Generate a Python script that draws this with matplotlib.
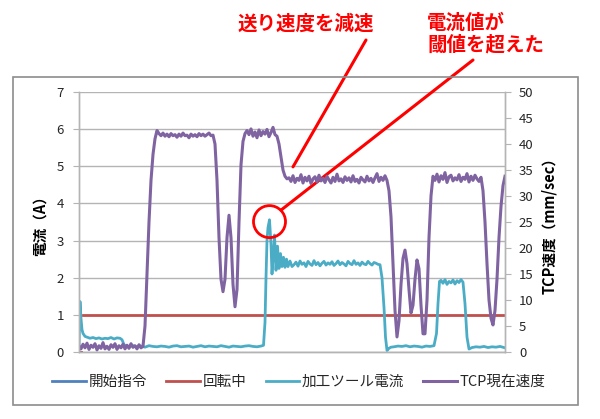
import numpy as np
import matplotlib
matplotlib.use('Agg')
import matplotlib.pyplot as plt
from matplotlib.patches import Rectangle, Ellipse

plt.rcParams['font.family'] = ['Noto Sans CJK JP', 'DejaVu Sans']

# 時間軸は目盛りなし (サンプル番号, 0..426)
t_end = 426

# 開始指令 (A) - ほぼ見えない
cmd_t = [0, 2]
cmd_v = [0, 0]

# 回転中 (A) - 0 の短い線のあと 1 に
rot_t = [0, 2.5, 2.5, 3.7, t_end]
rot_v = [0, 0, np.nan, 1, 1]

# 加工ツール電流 (A)
cur_t = np.concatenate([
    [0, 1, 2, 3, 4, 6],
    np.arange(8, 42, 3),
    [43, 45, 47],
    np.arange(50, 185, 4),
    [184.5, 186, 187, 188, 189, 190.5, 192, 193, 194.5, 195.5, 197, 198.5,
     200, 201.5, 203, 204.5, 206, 207.5, 209, 211, 213],
    np.arange(215, 301, 2),
    [301, 303, 305, 306.5, 308, 310, 312],
    np.arange(315, 357, 4),
    [357.5, 359, 360.5],
    np.arange(362, 385, 2),
    [386, 388, 390],
    np.arange(393, 427, 4),
])
cur_v = np.concatenate([
    [0.05, 1.36, 0.9, 0.6, 0.5, 0.42],
    [0.40, 0.37, 0.39, 0.36, 0.38, 0.35, 0.37, 0.36, 0.39, 0.35, 0.38, 0.37],
    [0.33, 0.2, 0.16],
    [0.15, 0.17, 0.14, 0.16, 0.13, 0.17, 0.15, 0.14, 0.16, 0.15, 0.13, 0.16,
     0.17, 0.14, 0.15, 0.16, 0.13, 0.15, 0.17, 0.14, 0.16, 0.15, 0.14, 0.17,
     0.15, 0.13, 0.16, 0.15, 0.14, 0.16, 0.17, 0.15, 0.14, 0.16],
    [0.18, 0.8, 2.0, 3.0, 3.35, 3.56, 2.9, 2.1, 2.7, 3.15, 2.2, 2.85,
     2.25, 2.65, 2.3, 2.55, 2.28, 2.5, 2.3, 2.45, 2.3],
    [2.35, 2.42, 2.31, 2.45, 2.36, 2.40, 2.30, 2.44, 2.37, 2.33, 2.46, 2.35,
     2.41, 2.32, 2.39, 2.44, 2.34, 2.40, 2.36, 2.43, 2.33, 2.38, 2.45, 2.35,
     2.41, 2.37, 2.32, 2.44, 2.38, 2.35, 2.46, 2.36, 2.40, 2.33, 2.42, 2.37,
     2.35, 2.44, 2.38, 2.34, 2.41, 2.39, 2.36],
    [2.35, 2.0, 1.2, 0.4, 0.04, 0.1, 0.13],
    [0.14, 0.16, 0.15, 0.17, 0.14, 0.16, 0.15, 0.13, 0.16, 0.15, 0.17],
    [0.5, 1.3, 1.9],
    [1.93, 1.85, 1.95, 1.82, 1.90, 1.86, 1.94, 1.83, 1.92, 1.87, 1.95, 1.88],
    [1.3, 0.4, 0.08],
    [0.12, 0.14, 0.13, 0.15, 0.12, 0.14, 0.13, 0.15, 0.12],
])

# TCP現在速度 (mm/sec) - 右軸
spd_t = np.concatenate([
    np.arange(0, 65, 2),
    [66, 68, 70, 72, 74, 76],
    np.arange(78, 135, 2),
    np.arange(136, 167, 2),
    np.arange(168, 197, 2),
    [198, 200, 202, 204, 206, 208],
    np.arange(210, 307, 2),
    np.arange(308, 353, 2),
    np.arange(354, 403, 2),
    np.arange(404, 427, 2),
])
spd_v = np.concatenate([
    [1.2, 0.6, 1.5, 0.8, 1.7, 0.5, 1.3, 0.9, 1.6, 0.4, 1.2, 0.7, 1.8, 0.6,
     1.1, 0.5, 1.4, 0.9, 1.6, 0.5, 1.2, 0.8, 1.5, 0.6, 1.3, 0.7, 1.6, 0.9,
     1.2, 0.6, 1.4, 0.8, 1.1],
    [5, 15, 25, 33, 38, 41],
    [42.6, 42.0, 41.6, 42.1, 41.5, 41.9, 41.4, 42.0, 41.6, 41.8, 41.3, 41.9,
     41.5, 42.1, 41.6, 41.7, 41.2, 41.9, 41.5, 41.8, 41.4, 42.0, 41.6, 41.9,
     41.5, 41.8, 42.1, 41.6, 41.7],
    [40, 33, 22, 14, 11.6, 14, 22, 26.3, 22, 13, 8.7, 12, 25, 36, 40.5, 42],
    [42.6, 41.8, 42.9, 41.5, 42.3, 41.2, 42.7, 41.6, 42.4, 41.9, 42.8, 41.4,
     42.2, 43.2, 41.8],
    [41.5, 40, 37.5, 35, 33.8, 33.3],
    [33.5, 32.8, 33.9, 32.6, 33.4, 33.0, 34.1, 32.5, 33.6, 32.9, 33.8, 32.4,
     33.3, 33.7, 32.7, 34.0, 32.9, 33.4, 32.6, 33.8, 33.1, 32.5, 33.6, 32.8,
     34.2, 32.9, 33.3, 32.6, 33.7, 33.0, 33.5, 32.7, 33.9, 32.8, 33.2, 32.5,
     33.6, 33.1, 32.7, 33.8, 32.9, 33.4, 32.6, 33.5, 34.3, 32.8, 33.6, 33.0,
     33.9],
    [33, 31, 26, 17, 8, 2.9, 6, 13, 18, 19.6, 17, 12, 7.5, 9, 14, 17.7, 16,
     9, 3.5, 3.5, 10, 22, 30],
    [33.8, 33.0, 34.2, 32.7, 33.9, 33.2, 34.5, 32.6, 33.7, 34.0, 32.9, 33.5,
     33.1, 34.1, 32.8, 33.6, 33.2, 34.3, 32.7, 33.8, 33.0, 34.0, 33.3, 32.8,
     33.6],
    [31, 25, 17, 10, 6.5, 5.2, 8, 14, 22, 28, 32, 33.8],
])

left_ticks = np.arange(0, 8, 1)
right_ticks = np.arange(0, 55, 5)

c_cmd = '#4F81BD'
c_rot = '#C0504D'
c_cur = '#4BACC6'
c_spd = '#8064A2'
grid_c = '#b4b4b4'
txt_c = '#262626'

fig = plt.figure(figsize=(6, 4.19), dpi=100)
fig.patches.append(Rectangle((13 / 600, 1 - 405 / 419), 565 / 600, 328 / 419,
                             transform=fig.transFigure, fill=False,
                             edgecolor='#8c8c8c', lw=1.2))

ax = fig.add_axes([79 / 600, 1 - 352 / 419, 426 / 600, 260 / 419])
ax2 = ax.twinx()

l1, = ax.plot(cmd_t, cmd_v, color=c_cmd, lw=2, label='開始指令')
l2, = ax.plot(rot_t, rot_v, color=c_rot, lw=2, label='回転中')
l3, = ax.plot(cur_t, cur_v, color=c_cur, lw=2, label='加工ツール電流')
l4, = ax2.plot(spd_t, spd_v, color=c_spd, lw=2.2, label='TCP現在速度')

ax.set_xlim(0, t_end)
ax.set_ylim(0, 7)
ax2.set_ylim(0, 50)
ax.set_xticks([])
ax.set_yticks(left_ticks)
ax2.set_yticks(right_ticks)
ax.yaxis.grid(True, color=grid_c, lw=1)
ax.set_axisbelow(True)

for a in (ax, ax2):
    a.spines['top'].set_visible(False)
    for s in ('left', 'right', 'bottom'):
        a.spines[s].set_color(grid_c)
        a.spines[s].set_linewidth(1)
ax.tick_params(axis='y', direction='out', length=4, color=grid_c,
               labelsize=9.5, labelcolor=txt_c, pad=7)
ax2.tick_params(axis='y', direction='out', length=4, color=grid_c,
                labelsize=9.5, labelcolor=txt_c, pad=6)

fig.text(40 / 600, 1 - 222 / 419, '電流（A）', rotation=90, ha='center',
         va='center', fontsize=10.5, fontweight='bold', color='black')
fig.text(549 / 600, 1 - 222 / 419, 'TCP速度（mm/sec）', rotation=90,
         ha='center', va='center', fontsize=10.5, fontweight='bold',
         color='black')

fig.legend(handles=[l1, l2, l3, l4], loc='center', ncol=4, frameon=False,
           bbox_to_anchor=(299 / 600, 1 - 382 / 419), fontsize=10.5,
           handlelength=2.3, handletextpad=0.2, columnspacing=1.3,
           labelcolor=txt_c)

# 注釈
red = '#FF0000'
i_pk = int(np.argmax(cur_v))
pk_t, pk_v = cur_t[i_pk], cur_v[i_pk] - 0.05
px_per_A = 260 / 7
ax.add_patch(Ellipse((pk_t, pk_v), 32, 32 / px_per_A, fill=False,
                     edgecolor=red, lw=2, zorder=10, clip_on=False))
ax.annotate('', xy=(pk_t + 11.5, pk_v + 11.5 / px_per_A), xycoords='data',
            xytext=(473, 419 - 60), textcoords='figure pixels',
            arrowprops=dict(arrowstyle='-', color=red, lw=2.2,
                            shrinkA=0, shrinkB=0), annotation_clip=False)
ax2.annotate('', xy=(214, 35.6), xycoords='data',
             xytext=(366, 419 - 40), textcoords='figure pixels',
             arrowprops=dict(arrowstyle='-', color=red, lw=2.2,
                             shrinkA=0, shrinkB=0), annotation_clip=False)

fig.text(238 / 600, 1 - 24 / 419, '送り速度を減速', ha='left', va='center',
         fontsize=14, fontweight='bold', color=red)
fig.text(427 / 600, 1 - 34 / 419, '電流値が\n閾値を超えた', ha='left',
         va='center', fontsize=14, fontweight='bold', color=red,
         linespacing=1.1)

fig.savefig('out.png', dpi=100)
